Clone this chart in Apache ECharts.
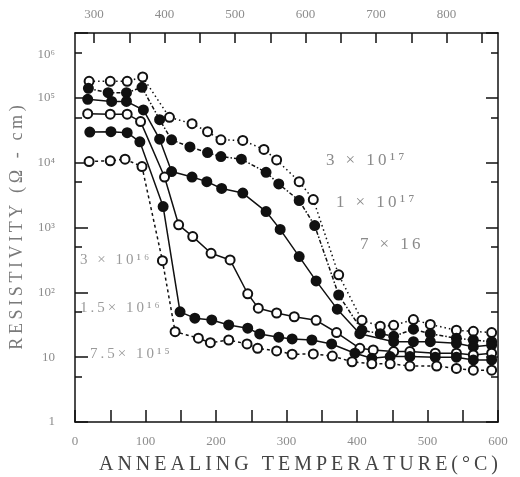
<!DOCTYPE html>
<html>
<head>
<meta charset="utf-8">
<script src="https://cdn.jsdelivr.net/npm/echarts@6.0.0/dist/echarts.min.js"></script>
<style>
  html, body { margin: 0; padding: 0; background: #fff; }
  #chart { width: 520px; height: 477px; }
</style>
</head>
<body>
<div id="chart"></div>
<script>
// annealing temperature (C) and resistivity (ohm-cm), one pair of arrays per curve
var tempsA = [20, 50, 74, 96, 134, 166, 188, 207, 238, 268, 286, 318, 338, 374, 407, 433, 452, 480, 504, 541, 565, 591];
var resA   = [1.8e5, 1.8e5, 1.8e5, 2.1e5, 5.0e4, 4.0e4, 3.0e4, 2.25e4, 2.2e4, 1.6e4, 1.1e4, 5.1e3, 2.7e3, 186, 37, 30, 31, 38, 32, 26, 25, 24];

var tempsB = [19, 47, 73, 95, 120, 137, 163, 188, 207, 236, 271, 289, 318, 340, 374, 407, 433, 452, 480, 504, 541, 565, 591];
var resB   = [1.4e5, 1.2e5, 1.2e5, 1.45e5, 4.6e4, 2.25e4, 1.75e4, 1.43e4, 1.24e4, 1.13e4, 7.1e3, 4.7e3, 2.6e3, 1.07e3, 91, 26, 23, 21, 27, 23, 19.6, 18.4, 17.3];

var tempsC = [18, 52, 73, 97, 120, 137, 166, 187, 208, 238, 271, 291, 318, 342, 372, 404, 452, 480, 504, 541, 565, 591];
var resC   = [9.5e4, 8.8e4, 8.8e4, 6.5e4, 2.3e4, 7.3e3, 6.0e3, 5.1e3, 4.0e3, 3.4e3, 1.76e3, 935, 356, 150, 55, 23, 17.3, 17.3, 17.3, 16.4, 14.5, 15.4];

var tempsD = [18, 50, 74, 93, 127, 147, 167, 193, 220, 245, 260, 286, 311, 342, 371, 404, 423, 452, 475, 511, 541, 565, 591];
var resD   = [5.7e4, 5.6e4, 5.6e4, 4.3e4, 6.0e3, 1.1e3, 724, 400, 316, 95, 57, 48, 42, 37, 24, 13.7, 12.9, 12.2, 12.2, 11.5, 11.5, 10.8, 11.5];

var tempsE = [21, 51, 74, 92, 125, 149, 170, 194, 218, 245, 262, 289, 308, 336, 364, 397, 421, 447, 475, 511, 541, 565, 591];
var resE   = [2.96e4, 3.0e4, 2.9e4, 2.1e4, 2.1e3, 50, 40, 37.5, 31.4, 28, 22.8, 20.3, 19.1, 18.4, 16, 11.5, 9.6, 10.2, 10.2, 10, 10, 9.05, 9.05];

var tempsF = [20, 50, 71, 95, 124, 142, 175, 192, 218, 244, 259, 286, 308, 338, 365, 393, 421, 447, 475, 513, 541, 565, 591];
var resF   = [1.04e4, 1.07e4, 1.13e4, 8.7e3, 308, 24.7, 19.6, 16.7, 18.4, 16, 13.7, 12.5, 11.1, 11.2, 10.4, 8.5, 7.9, 7.9, 7.3, 7.3, 6.7, 6.3, 6.3];

var curveNames = ["3 × 10¹⁷", "1 × 10¹⁷", "7 × 16", "3 × 10¹⁶", "1.5× 10¹⁶", "7.5× 10¹⁵"];

// tick values
var celsiusTicks = [0, 100, 200, 300, 400, 500, 600];
var kelvinLabels = [300, 400, 500, 600, 700, 800];
var kelvinTicks  = [300, 350, 400, 450, 500, 550, 600, 650, 700, 750, 800, 850];
var decadeTicks  = [1, 10, 100, 1000, 10000, 100000, 1000000];
var halfTicks    = [5, 50, 500, 5000, 50000, 500000];

var SERIF = "'Liberation Serif', 'DejaVu Serif', serif";
var SUP = { 0: "", 1: "", 2: "²", 3: "³", 4: "⁴", 5: "⁵", 6: "⁶" };

function spaced(s) {
	return s.split("").join("\u2009");
}

function pairs(xs, ys) {
	var out = [];
	for (var i = 0; i < xs.length; i++) {
		out.push([xs[i], ys[i]]);
	}
	return out;
}

function makeSeries(name, temps, values, filled, dash) {
	return {
		name: name,
		type: "line",
		xAxisIndex: 0,
		yAxisIndex: 0,
		data: pairs(temps, values),
		symbol: "circle",
		symbolSize: 9,
		showAllSymbol: true,
		animation: false,
		lineStyle: { color: "#111", width: 1.5, type: dash },
		itemStyle: {
			color: filled ? "#111" : "#fff",
			borderColor: "#111",
			borderWidth: 2
		},
		emphasis: { disabled: true }
	};
}

function logAxis(position, ticks, len, withLabels, showLine) {
	return {
		type: "log",
		logBase: 10,
		position: position,
		min: 1,
		max: 1000000,
		gridIndex: 0,
		axisLine: { show: showLine, lineStyle: { color: "#111", width: 1.5 } },
		axisTick: { show: true, inside: true, length: len, customValues: ticks,
			lineStyle: { color: "#111", width: 1.5 } },
		axisLabel: { show: withLabels },
		splitLine: { show: false }
	};
}

// curve labels written on the plot
function curveLabel(text, x, y, size, color) {
	return { type: "text", left: x, top: y, silent: true,
		style: { text: spaced(text), fill: color, font: size + "px " + SERIF } };
}

var chart = echarts.init(document.getElementById("chart"), null, { renderer: "canvas" });

var leftMajor = logAxis("left", decadeTicks, 13, true, true);
leftMajor.axisLabel = {
	show: true,
	customValues: decadeTicks,
	margin: 20,
	color: "#8c8c8c",
	fontFamily: SERIF,
	fontSize: 13,
	formatter: function (v) {
		var e = Math.round(Math.log(v) / Math.LN10);
		if (e === 0) return "1";
		if (e === 1) return "10";
		if (e === 6) return "{s|10" + SUP[e] + "}";
		return "10" + SUP[e];
	},
	rich: {
		s: { color: "#8c8c8c", fontFamily: SERIF, fontSize: 13, padding: [44, 0, 0, 0] }
	}
};
leftMajor.name = spaced("RESISTIVITY (Ω - cm)");
leftMajor.nameLocation = "middle";
leftMajor.nameGap = 43;
leftMajor.nameRotate = 90;
leftMajor.nameTextStyle = { color: "#7a7a7a", fontFamily: SERIF, fontSize: 18 };

var option = {
	backgroundColor: "#fff",
	animation: false,
	grid: { left: 75, right: 22, top: 33, bottom: 55, containLabel: false, outerBoundsMode: "none" },
	xAxis: [
		{
			type: "value",
			position: "bottom",
			min: 0,
			max: 600,
			interval: 50,
			axisLine: { lineStyle: { color: "#111", width: 1.5 } },
			axisTick: { inside: true, length: 12, lineStyle: { color: "#111", width: 1.5 } },
			axisLabel: {
				customValues: celsiusTicks,
				margin: 13,
				color: "#8c8c8c",
				fontFamily: SERIF,
				fontSize: 13
			},
			splitLine: { show: false },
			name: spaced("ANNEALING TEMPERATURE(°C)"),
			nameLocation: "middle",
			nameGap: 33,
			nameTextStyle: { color: "#444", fontFamily: SERIF, fontSize: 20, padding: [0, 0, 0, 24] }
		},
		{
			type: "value",
			position: "top",
			min: 273,
			max: 873,
			axisLine: { lineStyle: { color: "#111", width: 1.5 } },
			axisTick: { inside: true, length: 10, customValues: kelvinTicks,
				lineStyle: { color: "#111", width: 1.5 } },
			axisLabel: {
				customValues: kelvinLabels,
				margin: 12,
				color: "#8c8c8c",
				fontFamily: SERIF,
				fontSize: 13
			},
			splitLine: { show: false }
		}
	],
	yAxis: [
		leftMajor,
		logAxis("left", halfTicks, 7, false, false),
		logAxis("right", decadeTicks, 12, false, true),
		logAxis("right", halfTicks, 7, false, false)
	],
	series: [
		makeSeries(curveNames[0], tempsA, resA, false, [1.5, 3]),
		makeSeries(curveNames[1], tempsB, resB, true, [4, 2, 1.5, 2]),
		makeSeries(curveNames[2], tempsC, resC, true, "solid"),
		makeSeries(curveNames[3], tempsD, resD, false, "solid"),
		makeSeries(curveNames[4], tempsE, resE, true, "solid"),
		makeSeries(curveNames[5], tempsF, resF, false, [3, 3])
	],
	graphic: [
		curveLabel(curveNames[0], 326, 152, 17, "#8a8a8a"),
		curveLabel(curveNames[1], 336, 194, 17, "#8a8a8a"),
		curveLabel(curveNames[2], 360, 236, 17, "#8a8a8a"),
		curveLabel(curveNames[3], 80, 253, 15, "#9a9a9a"),
		curveLabel(curveNames[4], 80, 301, 15, "#9a9a9a"),
		curveLabel(curveNames[5], 90, 347, 15, "#9a9a9a")
	]
};

chart.setOption(option);
</script>
</body>
</html>
